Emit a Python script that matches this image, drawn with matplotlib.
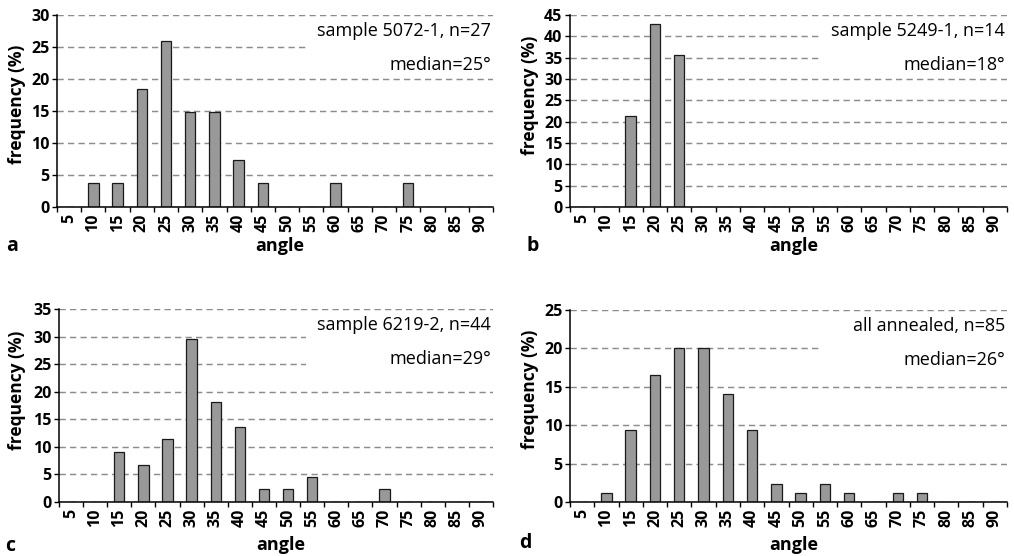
import matplotlib
matplotlib.use("Agg")
import matplotlib.pyplot as plt
from matplotlib.patches import Rectangle
from matplotlib.ticker import MultipleLocator, FixedLocator

plt.rcParams["font.family"] = ["Open Sans", "DejaVu Sans"]

# Angle classes (degrees)
angles = [5, 10, 15, 20, 25, 30, 35, 40, 45, 50, 55, 60, 65, 70, 75, 80, 85, 90]

# Frequencies (%) per angle class
freq_5072 = [0, 3.7, 3.7, 18.5, 25.9, 14.8, 14.8, 7.4, 3.7, 0, 0, 3.7, 0, 0, 3.7, 0, 0, 0]
freq_5249 = [0, 0, 21.4, 42.9, 35.7, 0, 0, 0, 0, 0, 0, 0, 0, 0, 0, 0, 0, 0]
freq_6219 = [0, 0, 9.1, 6.8, 11.4, 29.5, 18.2, 13.6, 2.3, 2.3, 4.5, 0, 0, 2.3, 0, 0, 0, 0]
freq_all = [0, 1.2, 9.4, 16.5, 20.0, 20.0, 14.1, 9.4, 2.4, 1.2, 2.4, 1.2, 0, 1.2, 1.2, 0, 0, 0]

titles = ["sample 5072-1, n=27", "sample 5249-1, n=14",
          "sample 6219-2, n=44", "all annealed, n=85"]
medians = ["median=25°", "median=18°", "median=29°", "median=26°"]
panel_letters = ["a", "b", "c", "d"]
ymax = [30, 45, 35, 25]

W, H = 1014, 556
fig = plt.figure(figsize=(W / 100, H / 100), dpi=100)

# axes boxes in pixels: left, top, right, bottom
boxes = [(57, 15, 493, 207), (570, 15, 1007, 207),
         (59, 309, 493, 502), (570, 310, 1007, 502)]
letter_pos = [(12, 246), (533, 246), (10, 546), (525, 543)]
xlabel_y = [246, 246, 545, 545]
ylabel_xy = [(17, 104), (530, 95), (17, 390), (530, 389)]

series = [freq_5072, freq_5249, freq_6219, freq_all]

for k in range(4):
    l, t, r, b = boxes[k]
    ax = fig.add_axes([l / W, 1 - b / H, (r - l) / W, (b - t) / H])
    x = list(range(len(angles)))
    ax.bar(x, series[k], width=0.43, color="#999999", edgecolor="#1a1a1a",
           linewidth=0.9, zorder=2)
    ax.set_xlim(-0.5, len(angles) - 0.5)
    ax.set_ylim(0, ymax[k])
    ax.yaxis.set_major_locator(MultipleLocator(5))
    ax.set_xticks(x)
    ax.set_xticklabels([str(a) for a in angles], rotation=90,
                       fontsize=11.5, fontweight="bold")
    ax.xaxis.set_minor_locator(FixedLocator([i - 0.5 for i in range(len(angles) + 1)]))
    ax.tick_params(axis="x", which="major", length=0, pad=5)
    ax.tick_params(axis="x", which="minor", length=3.5, width=1.0, direction="out")
    ax.tick_params(axis="y", length=3.5, width=1.0, direction="out", pad=2)
    for lab in ax.get_yticklabels():
        lab.set_fontsize(11.5)
        lab.set_fontweight("bold")
    for s in ["top", "right"]:
        ax.spines[s].set_visible(False)
    for s in ["left", "bottom"]:
        ax.spines[s].set_linewidth(1.1)
    ax.set_axisbelow(True)
    ax.yaxis.grid(True, color="#8c8c8c", linewidth=1.05, linestyle=(0, (4.3, 2.9)))
    ax.xaxis.grid(False)

    # white backing behind the annotation lines
    ax.add_patch(Rectangle((0.57, 0.68), 0.43, 0.295, transform=ax.transAxes,
                           facecolor="white", edgecolor="none", zorder=1.5))
    ax.text(0.995, 0.915, titles[k], transform=ax.transAxes, ha="right",
            va="center", fontsize=13, zorder=3)
    ax.text(0.995, 0.74, medians[k], transform=ax.transAxes, ha="right",
            va="center", fontsize=13, zorder=3)

    cx = (l + r) / 2 + 5
    fig.text(cx / W, 1 - xlabel_y[k] / H, "angle", ha="center", va="center",
             fontsize=13, fontweight="bold")
    yx, yy = ylabel_xy[k]
    fig.text(yx / W, 1 - yy / H, "frequency (%)",
             rotation=90, ha="center", va="center", fontsize=12.5, fontweight="bold")
    lx, ly = letter_pos[k]
    fig.text(lx / W, 1 - ly / H, panel_letters[k], ha="center", va="center",
             fontsize=14, fontweight="bold")

fig.savefig("out.png", dpi=100, facecolor="white")
